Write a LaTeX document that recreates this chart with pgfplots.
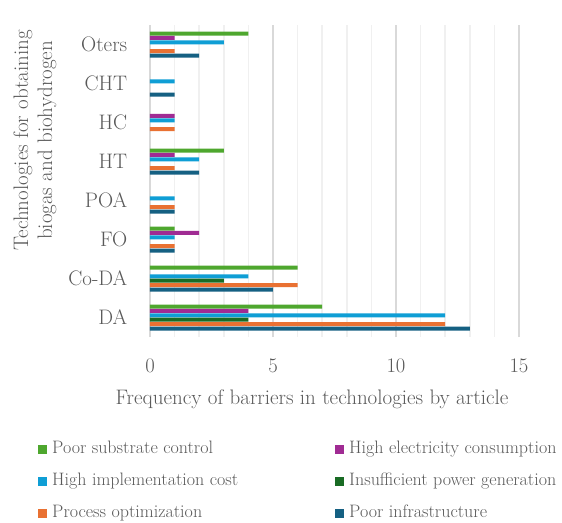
\documentclass[border=0pt]{standalone}
\usepackage{pgfplots}
\pgfplotsset{compat=1.18}
\definecolor{cgreen}{HTML}{4EA72E}
\definecolor{cpurple}{HTML}{A02B93}
\definecolor{cblue}{HTML}{0F9ED5}
\definecolor{cdgreen}{HTML}{196B24}
\definecolor{corange}{HTML}{E97132}
\definecolor{cdblue}{HTML}{156082}
\definecolor{txt}{HTML}{595959}
\begin{document}
\begin{tikzpicture}
\begin{axis}[
  scale only axis,
  width=369bp, height=312bp,
  xbar, bar width=4bp,
  xmin=0, xmax=15, ymin=-0.5, ymax=7.5,
  enlargelimits=false,
  xtick={0,5,10,15},
  minor x tick num=4,
  xmajorgrids, xminorgrids,
  major grid style={draw=black!15, line width=1.5bp},
  minor grid style={draw=black!6, line width=1.5bp},
  ytick={0,1,2,3,4,5,6,7},
  yticklabels={DA,Co-DA,FO,POA,HT,HC,CHT,Oters},
  tick style={draw=none},
  axis line style={draw=none},
  tick label style={font=\fontsize{21bp}{24bp}\selectfont, text=txt},
  every x tick label/.append style={anchor=center, yshift=-29bp},
  every y tick label/.append style={anchor=east, xshift=-15bp},
  xlabel={Frequency of barriers in technologies by article},
  ylabel={Technologies for obtaining\\biogas and biohydrogen},
  every axis x label/.style={at={(axis description cs:0,0)}, xshift=162bp, yshift=-62bp, anchor=center, font=\fontsize{21bp}{24bp}\selectfont, text=txt},
  every axis y label/.style={at={(axis description cs:0,0.63)}, xshift=-115bp, rotate=90, anchor=center, align=center, font=\fontsize{21bp}{24bp}\selectfont, text=txt},
  legend columns=2,
  legend image code/.code={\fill[#1,draw=none] (0bp,-4.5bp) rectangle (9bp,4.5bp);},
  legend style={at={(axis description cs:0,0)}, anchor=north west, xshift=-112bp, yshift=-104bp,
    draw=none, fill=none, inner sep=0pt, row sep=15bp,
    font=\fontsize{18bp}{21bp}\selectfont, text=txt,
    nodes={inner sep=0pt, text height=12.5bp, text depth=4.5bp},
    /tikz/every odd column/.append style={column sep=5bp},
    /tikz/every even column/.append style={column sep=97bp}},
  legend cell align=left,
]
\addplot[fill=cgreen, draw=none, bar shift=11bp] coordinates {(7,0) (6,1) (1,2) (3,4) (4,7)};
\addplot[fill=cpurple, draw=none, bar shift=6.6bp] coordinates {(4,0) (2,2) (1,4) (1,5) (1,7)};
\addplot[fill=cblue, draw=none, bar shift=2.2bp] coordinates {(12,0) (4,1) (1,2) (1,3) (2,4) (1,5) (1,6) (3,7)};
\addplot[fill=cdgreen, draw=none, bar shift=-2.2bp] coordinates {(4,0) (3,1)};
\addplot[fill=corange, draw=none, bar shift=-6.6bp] coordinates {(12,0) (6,1) (1,2) (1,3) (1,4) (1,5) (1,7)};
\addplot[fill=cdblue, draw=none, bar shift=-11bp] coordinates {(13,0) (5,1) (1,2) (1,3) (2,4) (1,6) (2,7)};
\legend{Poor substrate control, High electricity consumption, High implementation cost, Insufficient power generation, Process optimization, Poor infrastructure}
\end{axis}
\pgfresetboundingbox
\path (-150bp,-186bp) rectangle (412bp,337bp);
\end{tikzpicture}
\end{document}
